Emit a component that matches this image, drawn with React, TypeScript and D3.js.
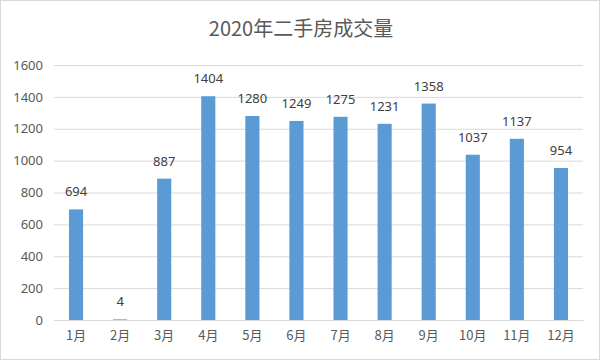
import React from 'react';
import * as d3 from 'd3';

const months = ['1月', '2月', '3月', '4月', '5月', '6月', '7月', '8月', '9月', '10月', '11月', '12月'];
const sales = [694, 4, 887, 1404, 1280, 1249, 1275, 1231, 1358, 1037, 1137, 954];
const yTicks = [0, 200, 400, 600, 800, 1000, 1200, 1400, 1600];
const title = '2020年二手房成交量';

const W = 602;
const H = 362;
const margin = { top: 65, right: 19, bottom: 42, left: 54 };
const font = "'Noto Sans', 'Noto Sans CJK SC', sans-serif";

export default function App() {
	const ref = React.useRef<SVGSVGElement>(null);

	React.useEffect(() => {
		const svg = d3.select(ref.current);
		svg.selectAll('*').remove();

		const x = d3
			.scaleBand()
			.domain(months)
			.range([margin.left, W - margin.right])
			.paddingInner(0.68)
			.paddingOuter(0.34);

		const y = d3
			.scaleLinear()
			.domain([0, 1600])
			.range([H - margin.bottom, margin.top]);

		// border
		svg
			.append('rect')
			.attr('x', 0.5)
			.attr('y', 0.5)
			.attr('width', W - 3)
			.attr('height', H - 3)
			.attr('fill', '#fff')
			.attr('stroke', '#d9d9d9');

		svg
			.append('text')
			.attr('x', W / 2)
			.attr('y', 36)
			.attr('text-anchor', 'middle')
			.attr('fill', '#595959')
			.style('font-family', "'Noto Sans CJK SC', sans-serif")
			.style('font-size', '20px')
			.text(title);

		const yAxis = svg
			.append('g')
			.attr('transform', `translate(${margin.left},0)`)
			.call(
				d3
					.axisLeft(y)
					.tickValues(yTicks)
					.tickFormat(d3.format('d'))
					.tickSize(-(W - margin.left - margin.right))
					.tickPadding(11)
			);
		yAxis.select('.domain').remove();
		yAxis.selectAll('line').attr('stroke', '#d9d9d9');
		yAxis
			.selectAll('text')
			.attr('fill', '#595959')
			.style('font-family', font)
			.style('font-size', '13px');

		const xAxis = svg
			.append('g')
			.attr('transform', `translate(0,${H - margin.bottom})`)
			.call(d3.axisBottom(x).tickSize(0).tickPadding(11));
		xAxis.select('.domain').attr('stroke', '#d9d9d9');
		xAxis
			.selectAll('text')
			.attr('fill', '#595959')
			.style('font-family', "'Noto Sans CJK SC', sans-serif")
			.style('font-size', '13px');

		svg
			.append('g')
			.attr('fill', '#5b9bd5')
			.selectAll('rect')
			.data(sales)
			.join('rect')
			.attr('x', (d, i) => x(months[i]))
			.attr('width', x.bandwidth())
			.attr('y', (d) => y(d))
			.attr('height', (d) => y(0) - y(d));

		svg
			.append('g')
			.selectAll('text')
			.data(sales)
			.join('text')
			.attr('x', (d, i) => x(months[i]) + x.bandwidth() / 2)
			.attr('y', (d) => y(d) - 13)
			.attr('text-anchor', 'middle')
			.attr('fill', '#404040')
			.style('font-family', font)
			.style('font-size', '13px')
			.text((d) => d);
	}, []);

	return (
		<svg
			ref={ref}
			width={W}
			height={H}
			style={{ position: 'absolute', left: 0, top: 0 }}
		/>
	);
}
